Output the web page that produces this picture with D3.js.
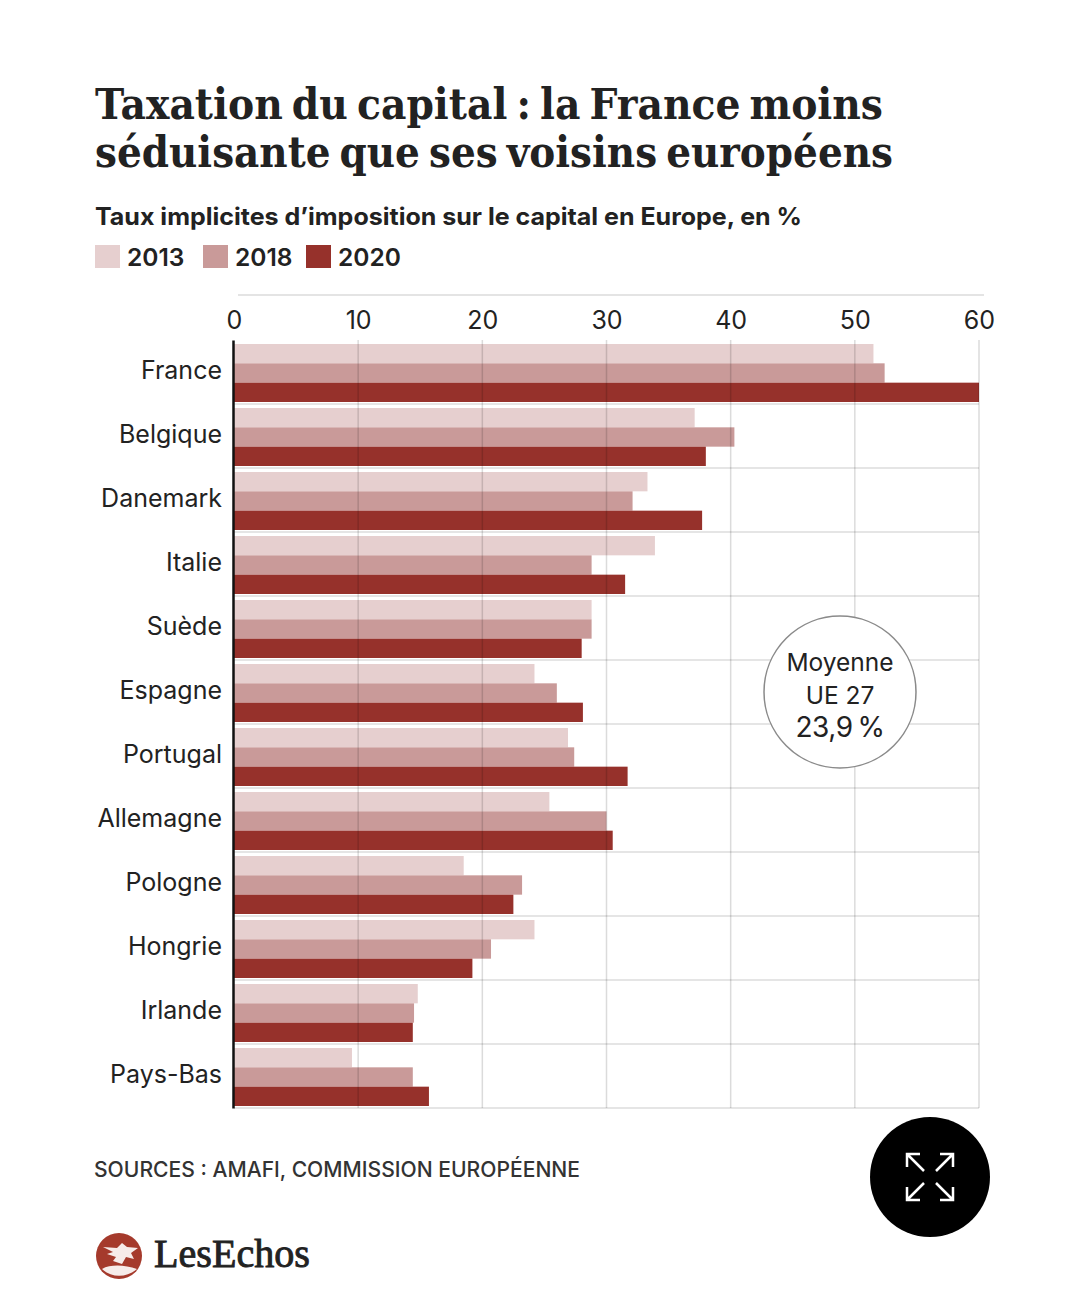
<!DOCTYPE html>
<html>
<head>
<meta charset="utf-8">
<script src="https://cdn.jsdelivr.net/npm/d3@7"></script>
<style>
  html, body { margin: 0; padding: 0; background: #fff; }
  svg { display: block; }
  text { font-family: Inter, Roboto, sans-serif; }
</style>
</head>
<body>
<div id="chart"></div>
<script>
const countries = ["France", "Belgique", "Danemark", "Italie", "Suède", "Espagne", "Portugal", "Allemagne", "Pologne", "Hongrie", "Irlande", "Pays-Bas"];
const years = ["2013", "2018", "2020"];
const values2013 = [51.5, 37.1, 33.3, 33.9, 28.8, 24.2, 26.9, 25.4, 18.5, 24.2, 14.8, 9.5];
const values2018 = [52.4, 40.3, 32.1, 28.8, 28.8, 26.0, 27.4, 30.0, 23.2, 20.7, 14.5, 14.4];
const values2020 = [60.0, 38.0, 37.7, 31.5, 28.0, 28.1, 31.7, 30.5, 22.5, 19.2, 14.4, 15.7];
const xTicks = [0, 10, 20, 30, 40, 50, 60];
const titleLines = ["Taxation du capital : la France moins", "séduisante que ses voisins européens"];
const subtitle = "Taux implicites d’imposition sur le capital en Europe, en %";
const source = "SOURCES : AMAFI, COMMISSION EUROPÉENNE";
const yearColors = ["#e6cfcf", "#c99a99", "#96312b"];

const WIDTH = 1080, HEIGHT = 1315;
const PLOT_LEFT = 234, PLOT_RIGHT = 979, PLOT_TOP = 340, PLOT_BOTTOM = 1108;
const INK = "#222222";
const GRID = "#dcdcdc";

const series = [values2013, values2018, values2020];

const svg = d3.select("#chart").append("svg").attr("width", WIDTH).attr("height", HEIGHT);

// title block
svg.append("g").selectAll("text").data(titleLines).join("text")
  .attr("x", 95)
  .attr("y", (d, i) => 119 + i * 48)
  .style("font-family", "'DejaVu Serif', serif")
  .attr("font-weight", 700)
  .attr("font-size", 43)
  .attr("word-spacing", -5)
  .attr("fill", INK)
  .attr("textLength", (d, i) => (i === 0 ? 788 : 798))
  .attr("lengthAdjust", "spacingAndGlyphs")
  .text(d => d);

svg.append("text")
  .attr("x", 95).attr("y", 225)
  .attr("font-weight", 700).attr("font-size", 24).attr("fill", INK)
  .attr("textLength", 707).attr("lengthAdjust", "spacingAndGlyphs")
  .text(subtitle);

// legend
const legendX = [95, 203, 306];
const legend = svg.append("g").selectAll("g").data(years).join("g")
  .attr("transform", (d, i) => `translate(${legendX[i]},245)`);
legend.append("rect").attr("width", 25).attr("height", 23).attr("fill", (d, i) => yearColors[i]);
legend.append("text")
  .attr("x", 32).attr("y", 21)
  .attr("font-weight", 600).attr("font-size", 24.5).attr("fill", INK)
  .text(d => d);

// scales
const x = d3.scaleLinear().domain([0, 60]).range([PLOT_LEFT, PLOT_RIGHT]);
const y = d3.scaleBand().domain(countries).range([PLOT_TOP, PLOT_BOTTOM]);
const yInner = d3.scaleBand().domain(years).range([4, 62]);

// top rule
svg.append("line")
  .attr("x1", 238).attr("x2", 984).attr("y1", 295).attr("y2", 295)
  .attr("stroke", "#e4e4e4").attr("stroke-width", 2);

// row separators under the bars
svg.append("g").selectAll("line").data(countries).join("line")
  .attr("x1", PLOT_LEFT).attr("x2", PLOT_RIGHT)
  .attr("y1", d => y(d) + y.step()).attr("y2", d => y(d) + y.step())
  .attr("stroke", GRID).attr("stroke-width", 1.5);

// bars
years.forEach((yr, s) => {
  svg.append("g").selectAll("rect").data(series[s]).join("rect")
    .attr("x", x(0))
    .attr("y", (d, i) => y(countries[i]) + yInner(yr))
    .attr("width", d => x(d) - x(0))
    .attr("height", yInner.bandwidth())
    .attr("fill", yearColors[s]);
});

// vertical grid, drawn on top so it shows through the bars
svg.append("g").selectAll("line").data(xTicks.slice(1)).join("line")
  .attr("x1", d => x(d)).attr("x2", d => x(d))
  .attr("y1", PLOT_TOP).attr("y2", PLOT_BOTTOM)
  .attr("stroke", "#000").attr("stroke-opacity", 0.14).attr("stroke-width", 1.5);

// x axis
const xAxis = svg.append("g")
  .attr("transform", `translate(0,${PLOT_TOP})`)
  .call(d3.axisTop(x).tickValues(xTicks).tickSize(0).tickPadding(11));
xAxis.select(".domain").remove();
xAxis.selectAll("text")
  .style("font-family", "Inter, sans-serif")
  .attr("font-size", 25).attr("fill", INK);

// y axis
const yAxis = svg.append("g")
  .attr("transform", `translate(${PLOT_LEFT - 1},0)`)
  .call(d3.axisLeft(y).tickSize(0).tickPadding(11));
yAxis.select(".domain").attr("stroke", "#111").attr("stroke-width", 2.5);
yAxis.selectAll("text")
  .style("font-family", "Inter, sans-serif")
  .attr("dy", "0.28em")
  .attr("font-size", 25).attr("fill", INK);

// EU average bubble
const bubble = svg.append("g").attr("transform", "translate(840,692)");
bubble.append("circle").attr("r", 76).attr("fill", "#fff").attr("stroke", "#8a8a8a").attr("stroke-width", 1.5);
const bubbleText = [["Moyenne", -21, 24.5], ["UE 27", 12, 24.5], ["23,9\u2009%", 45, 28]];
bubble.selectAll("text").data(bubbleText).join("text")
  .attr("text-anchor", "middle")
  .attr("y", d => d[1])
  .style("font-family", "Inter, sans-serif")
  .attr("letter-spacing", d => (d[2] === 28 ? -0.4 : 0))
  .attr("font-size", d => d[2]).attr("fill", INK)
  .text(d => d[0]);

// source
svg.append("text")
  .attr("x", 94).attr("y", 1177)
  .attr("font-size", 21).attr("font-weight", 500).attr("fill", "#333")
  .attr("textLength", 486).attr("lengthAdjust", "spacingAndGlyphs")
  .text(source);

// logo
const logo = svg.append("g").attr("transform", "translate(119,1256)");
logo.append("circle").attr("r", 23).attr("fill", "#a53a2c");
logo.append("path")
  .attr("d", "M-16,-9 L-2,-8 L3,-13 L8,-9 L19,-8 L12,-3 L15,3 L7,1 L3,8 L-6,5 L-3,1 L-12,-2 L-6,-4 Z M-17,13 C-8,8 6,9 18,13 C8,22 -8,22 -17,13 Z")
  .attr("fill", "#f6ecea");
svg.append("text")
  .attr("x", 154).attr("y", 1267)
  .style("font-family", "'Liberation Serif', serif")
  .attr("font-size", 41).attr("font-weight", 400).attr("fill", INK)
  .attr("stroke", INK).attr("stroke-width", 0.9)
  .attr("textLength", 156).attr("lengthAdjust", "spacingAndGlyphs")
  .text("LesEchos");

// fullscreen button of the page
const btn = svg.append("g").attr("transform", "translate(930,1177)");
btn.append("circle").attr("r", 60).attr("fill", "#000");
const corners = [[-1, -1], [1, -1], [-1, 1], [1, 1]];
btn.selectAll("path").data(corners).join("path")
  .attr("d", ([a, b]) => `M${a * 23},${b * 10}V${b * 23}H${a * 10}M${a * 23},${b * 23}L${a * 6},${b * 6}`)
  .attr("fill", "none").attr("stroke", "#fff").attr("stroke-width", 2.5);
</script>
</body>
</html>
